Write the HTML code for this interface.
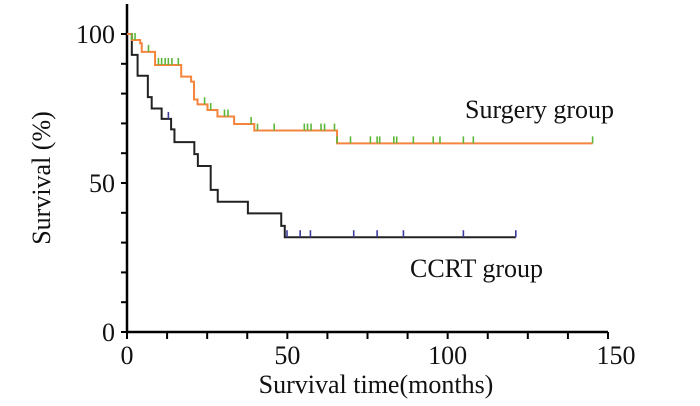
<!DOCTYPE html>
<html><head><meta charset="utf-8"><style>
html,body{margin:0;padding:0;background:#fff;width:700px;height:406px;overflow:hidden}
svg text{font-family:"Liberation Serif",serif;fill:#111}
</style></head><body>
<svg id="chart" width="700" height="406" viewBox="0 0 700 406" xmlns="http://www.w3.org/2000/svg">
<g id="axes"></g>
<g id="series"></g>
<text transform="translate(50,178) rotate(-90)" text-anchor="middle" font-size="26">Survival (%)</text>
<text x="376" y="393" text-anchor="middle" font-size="26">Survival time(months)</text>
<text x="465" y="118" font-size="26">Surgery group</text>
<text x="410" y="277" font-size="26">CCRT group</text>
</svg>
<script>
const xTicks=[0,50,100,150];
const yTicks=[0,50,100];
const surgeryTimes=[0,1.5,4.1,4.6,8.75,16.9,20,20.9,22,25.1,28.2,33.4,39.7,65.5,145.2];
const surgeryValues=[100,98,96.9,94,89.6,85.7,84,78,76.4,74.5,72.3,69.8,67.6,63.3,63.3];
const surgeryCensored=[1.5,2.5,6.7,9.8,10.8,11.9,12.9,14,16,24.2,26.1,30.4,31.5,38.7,40.7,45.9,55.3,56.3,57.4,60.5,61.6,64.7,65.5,69.7,75.9,78,78.8,83.2,84.1,89.3,95.5,97.6,104.9,108,145.2];
const ccrtTimes=[0,1.5,3.3,6.5,7.7,10.8,13.75,14.8,21,22.1,26.1,28.3,37.7,48.1,49.2,121.25];
const ccrtValues=[100,93,86,78.8,75,71.5,68,63.7,59.7,55.7,47.7,43.7,39.8,35.6,31.8,31.8];
const ccrtCensored=[12.9,49.9,54,57.2,70.7,78,86.2,104.9,121.25];

const X=m=>127+m*(481/150);
const Y=v=>332-v*2.98;
const NS="http://www.w3.org/2000/svg";
function mk(tag,attrs,parent){const e=document.createElementNS(NS,tag);for(const k in attrs)e.setAttribute(k,attrs[k]);parent.appendChild(e);return e;}
const axes=document.getElementById('axes'),series=document.getElementById('series');
let el=mk('line',{x1:127,y1:4,x2:127,y2:333,stroke:'#000','stroke-width':2.5},axes);


el=mk('line',{x1:126,y1:332,x2:X(150),y2:332,stroke:'#000','stroke-width':2.5},axes);


for(let v=0;v<=100;v+=10){el=mk('line',{x1:121,y1:Y(v),x2:127,y2:Y(v),stroke:'#000','stroke-width':2},axes);

}
for(let m=0;m<=150;m+=12.5){el=mk('line',{x1:X(m),y1:332,x2:X(m),y2:339,stroke:'#000','stroke-width':2},axes);

}
yTicks.forEach(v=>{const t=mk('text',{x:115,y:Y(v)+9,'text-anchor':'end','font-size':26},axes);t.textContent=v;

});
xTicks.forEach(m=>{const t=mk('text',{x:X(m)+(m===150?8:0),y:364,'text-anchor':'middle','font-size':26},axes);t.textContent=m;

});
function valAt(ts,vs,t){let v=vs[0];for(let i=0;i<ts.length;i++){if(ts[i]<=t)v=vs[i];}return v;}
function drawCurve(ts,vs,cens,lineCol,tickCol,name){
  let d='M'+X(ts[0])+' '+Y(vs[0]);
  for(let i=1;i<ts.length;i++){d+=' H'+X(ts[i])+' V'+Y(vs[i]);}
  const p=mk('path',{d:d,fill:'none',stroke:lineCol,'stroke-width':2},series);
  
  
  cens.forEach(t=>{const v=valAt(ts,vs,t);const l=mk('line',{x1:X(t),y1:Y(v),x2:X(t),y2:Y(v)-7,stroke:tickCol,'stroke-width':1.6},series);
  
  });
}
drawCurve(ccrtTimes,ccrtValues,ccrtCensored,'#222','#3c3c9c','ccrt');
drawCurve(surgeryTimes,surgeryValues,surgeryCensored,'#f5843c','#5cb83a','surgery');
</script>
</body></html>
